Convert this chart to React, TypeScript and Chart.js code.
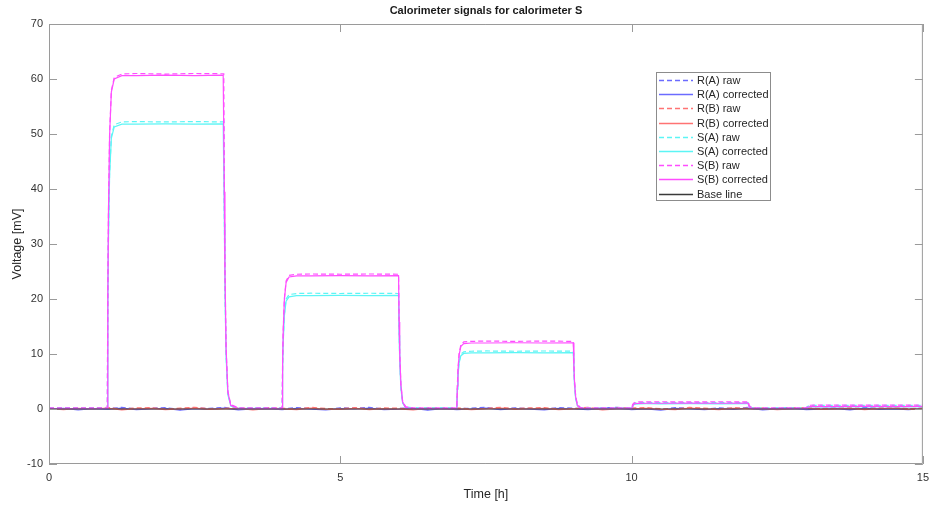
import React, { useEffect, useRef } from "react";
import { Chart, registerables } from "chart.js";

Chart.register(...registerables);

const TITLE = "Calorimeter signals for calorimeter S";
const X_LABEL = "Time [h]";
const Y_LABEL = "Voltage [mV]";
const X_TICKS = [0, 5, 10, 15];
const Y_TICKS = [-10, 0, 10, 20, 30, 40, 50, 60, 70];

const SERIES_NAMES = [
  "R(A) raw",
  "R(A) corrected",
  "R(B) raw",
  "R(B) corrected",
  "S(A) raw",
  "S(A) corrected",
  "S(B) raw",
  "S(B) corrected",
  "Base line",
];

// time grid for the S signals [h]
const S_TIME = [
  0, 0.5,
  1, 1.01, 1.02, 1.04, 1.07, 1.12, 1.25, 1.5, 2, 2.5, 2.99,
  3, 3.01, 3.02, 3.04, 3.07, 3.12, 3.25, 3.6,
  4, 4.01, 4.02, 4.04, 4.07, 4.12, 4.25, 4.5, 5, 5.5, 5.99,
  6, 6.01, 6.02, 6.04, 6.07, 6.12, 6.25, 6.6,
  7, 7.01, 7.02, 7.04, 7.07, 7.12, 7.25, 7.5, 8, 8.5, 8.99,
  9, 9.01, 9.02, 9.04, 9.07, 9.12, 9.25, 9.6,
  10, 10.01, 10.02, 10.04, 10.07, 10.12, 10.25, 10.5, 11, 11.5, 11.99,
  12, 12.01, 12.02, 12.04, 12.07, 12.12, 12.25, 12.6,
  13, 13.01, 13.02, 13.04, 13.07, 13.12, 13.25, 13.5, 14, 14.5, 15,
];

const SB_CORR = [
  0.05, 0.05,
  0.05, 21.2, 35.2, 49.7, 57.6, 60.0, 60.6, 60.6, 60.7, 60.6, 60.7,
  60.7, 39.5, 25.5, 11.0, 3.1, 0.65, 0.05, 0.05,
  0.05, 8.5, 14.1, 19.9, 23.0, 24.0, 24.2, 24.2, 24.25, 24.2, 24.25,
  24.25, 15.8, 10.2, 4.4, 1.25, 0.3, 0.05, 0.05,
  0.05, 4.2, 7.0, 9.9, 11.4, 11.9, 12.0, 12.0, 12.05, 12.0, 12.05,
  12.05, 7.85, 5.1, 2.2, 0.65, 0.15, 0.05, 0.05,
  0.05, 0.4, 0.63, 0.87, 1.0, 1.04, 1.05, 1.05, 1.08, 1.05, 1.08,
  1.08, 0.72, 0.48, 0.23, 0.1, 0.06, 0.05, 0.05,
  0.05, 0.19, 0.28, 0.38, 0.43, 0.45, 0.45, 0.45, 0.47, 0.45, 0.46,
];

const SB_RAW = [
  0.2, 0.2,
  0.2, 21.4, 35.4, 50.0, 57.9, 60.3, 60.9, 61.0, 60.9, 61.0, 60.95,
  60.95, 39.7, 25.7, 11.1, 3.2, 0.8, 0.2, 0.2,
  0.2, 8.7, 14.3, 20.1, 23.3, 24.3, 24.5, 24.55, 24.5, 24.55, 24.5,
  24.5, 16.0, 10.4, 4.6, 1.4, 0.45, 0.2, 0.2,
  0.2, 4.4, 7.2, 10.1, 11.7, 12.2, 12.3, 12.35, 12.3, 12.35, 12.3,
  12.3, 8.1, 5.3, 2.4, 0.8, 0.3, 0.2, 0.2,
  0.2, 0.6, 0.85, 1.1, 1.25, 1.29, 1.3, 1.32, 1.3, 1.32, 1.3,
  1.3, 0.9, 0.66, 0.4, 0.26, 0.21, 0.2, 0.2,
  0.2, 0.38, 0.49, 0.61, 0.68, 0.7, 0.7, 0.72, 0.7, 0.72, 0.7,
];

const SA_CORR = [
  0.05, 0.05,
  0.05, 18.2, 30.1, 42.5, 49.2, 51.3, 51.8, 51.8, 51.85, 51.8, 51.85,
  51.85, 33.7, 21.8, 9.4, 2.6, 0.55, 0.05, 0.05,
  0.05, 7.2, 12.0, 16.9, 19.6, 20.4, 20.6, 20.6, 20.65, 20.6, 20.65,
  20.65, 13.4, 8.7, 3.75, 1.07, 0.25, 0.05, 0.05,
  0.05, 3.6, 5.9, 8.4, 9.7, 10.1, 10.2, 10.2, 10.25, 10.2, 10.25,
  10.25, 6.7, 4.3, 1.9, 0.55, 0.15, 0.05, 0.05,
  0.05, 0.37, 0.57, 0.79, 0.9, 0.94, 0.95, 0.95, 0.97, 0.95, 0.97,
  0.97, 0.65, 0.44, 0.21, 0.1, 0.06, 0.05, 0.05,
  0.05, 0.17, 0.25, 0.34, 0.38, 0.4, 0.4, 0.4, 0.42, 0.4, 0.41,
];

const SA_RAW = [
  0.2, 0.2,
  0.2, 18.4, 30.4, 42.8, 49.6, 51.7, 52.2, 52.25, 52.2, 52.25, 52.2,
  52.2, 34.0, 22.0, 9.6, 2.8, 0.7, 0.2, 0.2,
  0.2, 7.5, 12.3, 17.3, 20.0, 20.8, 21.0, 21.05, 21.0, 21.05, 21.0,
  21.0, 13.7, 9.0, 3.9, 1.2, 0.4, 0.2, 0.2,
  0.2, 3.8, 6.2, 8.6, 10.0, 10.4, 10.5, 10.55, 10.5, 10.55, 10.5,
  10.5, 6.9, 4.5, 2.0, 0.7, 0.3, 0.2, 0.2,
  0.2, 0.53, 0.75, 0.98, 1.1, 1.14, 1.15, 1.17, 1.15, 1.17, 1.15,
  1.15, 0.82, 0.6, 0.37, 0.25, 0.21, 0.2, 0.2,
  0.2, 0.36, 0.46, 0.57, 0.63, 0.65, 0.65, 0.67, 0.65, 0.67, 0.65,
];

// time grid for the R signals [h]
const R_TIME = [
  0, 0.25, 0.5, 0.75, 1, 1.25, 1.5, 1.75, 2, 2.25,
  2.5, 2.75, 3, 3.25, 3.5, 3.75, 4, 4.25, 4.5, 4.75,
  5, 5.25, 5.5, 5.75, 6, 6.25, 6.5, 6.75, 7, 7.25,
  7.5, 7.75, 8, 8.25, 8.5, 8.75, 9, 9.25, 9.5, 9.75,
  10, 10.25, 10.5, 10.75, 11, 11.25, 11.5, 11.75, 12, 12.25,
  12.5, 12.75, 13, 13.25, 13.5, 13.75, 14, 14.25, 14.5, 14.75,
  15,
];

const RA_RAW = [
  0.1, 0.25, -0.05, 0.2, 0.05, 0.3, 0.0, 0.15, 0.25, -0.1,
  0.2, 0.1, 0.3, -0.05, 0.15, 0.2, 0.0, 0.25, 0.1, -0.05,
  0.2, 0.15, 0.3, 0.0, 0.1, 0.25, -0.1, 0.2, 0.05, 0.15,
  0.3, 0.0, 0.2, 0.1, -0.05, 0.25, 0.15, 0.0, 0.2, 0.3,
  0.05, 0.1, -0.1, 0.25, 0.15, 0.0, 0.2, 0.1, 0.3, -0.05,
  0.15, 0.25, 0.0, 0.1, 0.2, -0.05, 0.3, 0.1, 0.15, 0.0,
  0.2,
];

const RA_CORR = [
  0.0, 0.1, -0.15, 0.05, -0.05, 0.15, -0.1, 0.0, 0.1, -0.2,
  0.05, -0.05, 0.15, -0.15, 0.0, 0.05, -0.1, 0.1, -0.05, -0.15,
  0.05, 0.0, 0.15, -0.1, -0.05, 0.1, -0.2, 0.05, -0.1, 0.0,
  0.15, -0.1, 0.05, -0.05, -0.15, 0.1, 0.0, -0.1, 0.05, 0.15,
  -0.1, 0.0, -0.2, 0.1, 0.0, -0.1, 0.05, -0.05, 0.15, -0.15,
  0.0, 0.1, -0.1, -0.05, 0.05, -0.15, 0.15, -0.05, 0.0, -0.1,
  0.05,
];

const RB_RAW = [
  0.15, 0.0, 0.2, 0.1, 0.3, -0.05, 0.2, 0.25, 0.0, 0.15,
  0.3, 0.05, 0.1, 0.25, -0.05, 0.2, 0.15, 0.0, 0.3, 0.1,
  0.05, 0.25, 0.0, 0.2, 0.15, -0.05, 0.25, 0.1, 0.2, 0.0,
  0.1, 0.3, 0.05, 0.2, 0.25, 0.0, 0.1, 0.3, -0.05, 0.15,
  0.2, 0.25, 0.05, 0.0, 0.3, 0.15, 0.0, 0.25, 0.1, 0.2,
  0.0, 0.15, 0.3, 0.05, 0.1, 0.25, 0.0, 0.2, 0.3, 0.05,
  0.15,
];

const RB_CORR = [
  0.05, -0.1, 0.1, 0.0, 0.15, -0.15, 0.05, 0.1, -0.1, 0.0,
  0.15, -0.05, 0.0, 0.1, -0.15, 0.05, 0.0, -0.1, 0.15, -0.05,
  -0.05, 0.1, -0.1, 0.05, 0.0, -0.15, 0.1, 0.0, 0.05, -0.1,
  0.0, 0.15, -0.05, 0.05, 0.1, -0.1, 0.0, 0.15, -0.15, 0.0,
  0.05, 0.1, -0.05, -0.1, 0.15, 0.0, -0.1, 0.1, 0.0, 0.05,
  -0.1, 0.0, 0.15, -0.05, 0.0, 0.1, -0.1, 0.05, 0.15, -0.05,
  0.0,
];

const BASE_TIME = [0, 15];
const BASE_VALUES = [0, 0];

const COLORS = [
  "#6b6bff",
  "#6b6bff",
  "#ff7373",
  "#ff7373",
  "#5cf5f5",
  "#5cf5f5",
  "#ff4dff",
  "#ff4dff",
  "#3a3a3a",
];
const DASHED = [true, false, true, false, true, false, true, false, false];

const toPoints = (xs: number[], ys: number[]) =>
  xs.map((x, i) => ({ x, y: ys[i] }));

const SERIES_DATA = [
  toPoints(R_TIME, RA_RAW),
  toPoints(R_TIME, RA_CORR),
  toPoints(R_TIME, RB_RAW),
  toPoints(R_TIME, RB_CORR),
  toPoints(S_TIME, SA_RAW),
  toPoints(S_TIME, SA_CORR),
  toPoints(S_TIME, SB_RAW),
  toPoints(S_TIME, SB_CORR),
  toPoints(BASE_TIME, BASE_VALUES),
];

const FONT = "'Liberation Sans', Arial, Helvetica, sans-serif";
const TEXT_COLOR = "#333333";
const AXIS_COLOR = "#9a9a9a";

const boxPlugin = {
  id: "matlabBox",
  afterDraw(chart: any) {
    const { ctx, chartArea } = chart;
    const { left, right, top, bottom } = chartArea;
    const xs = chart.scales.x;
    const ys = chart.scales.y;
    ctx.save();
    ctx.strokeStyle = AXIS_COLOR;
    ctx.lineWidth = 1;
    ctx.beginPath();
    ctx.rect(left + 0.5, top + 0.5, right - left - 1, bottom - top - 1);
    ctx.stroke();
    const tl = 8;
    ctx.beginPath();
    X_TICKS.forEach((v) => {
      const px = Math.round(xs.getPixelForValue(v)) + 0.5;
      ctx.moveTo(px, bottom);
      ctx.lineTo(px, bottom - tl);
      ctx.moveTo(px, top);
      ctx.lineTo(px, top + tl);
    });
    Y_TICKS.forEach((v) => {
      const py = Math.round(ys.getPixelForValue(v)) + 0.5;
      ctx.moveTo(left, py);
      ctx.lineTo(left + tl, py);
      ctx.moveTo(right, py);
      ctx.lineTo(right - tl, py);
    });
    ctx.stroke();

    // title
    ctx.fillStyle = "#1a1a1a";
    ctx.font = `bold 11px ${FONT}`;
    ctx.textAlign = "center";
    ctx.textBaseline = "middle";
    ctx.fillText(TITLE, (left + right) / 2, 11);

    // legend
    const lx = 656;
    const ly = 72;
    const lw = 114;
    const lh = 128;
    ctx.fillStyle = "#ffffff";
    ctx.fillRect(lx, ly, lw, lh);
    ctx.strokeStyle = "#8c8c8c";
    ctx.lineWidth = 1;
    ctx.strokeRect(lx + 0.5, ly + 0.5, lw, lh);
    ctx.font = `11px ${FONT}`;
    ctx.textAlign = "left";
    ctx.textBaseline = "middle";
    SERIES_NAMES.forEach((name, i) => {
      const cy = Math.round(ly + 8 + i * 14.2) + 0.5;
      ctx.strokeStyle = COLORS[i];
      ctx.lineWidth = 1.3;
      ctx.setLineDash(DASHED[i] ? [5, 3] : []);
      ctx.beginPath();
      ctx.moveTo(lx + 3, cy);
      ctx.lineTo(lx + 37, cy);
      ctx.stroke();
      ctx.setLineDash([]);
      ctx.fillStyle = "#262626";
      ctx.fillText(name, lx + 41, cy);
    });
    ctx.restore();
  },
};

export default function App() {
  const ref = useRef<HTMLCanvasElement | null>(null);

  useEffect(() => {
    document.body.style.margin = "0";
    const canvas = ref.current;
    if (!canvas) return;
    const chart = new Chart(canvas, {
      type: "line",
      data: {
        datasets: SERIES_NAMES.map((name, i) => ({
          label: name,
          data: SERIES_DATA[i],
          borderColor: COLORS[i],
          backgroundColor: COLORS[i],
          borderWidth: 1.2,
          borderDash: DASHED[i] ? [5, 3] : [],
          pointRadius: 0,
          fill: false,
          tension: 0,
          order: SERIES_NAMES.length - i,
        })),
      },
      options: {
        responsive: false,
        animation: false,
        layout: { padding: { top: 24, right: 9, left: 0, bottom: 0 } },
        plugins: {
          legend: { display: false },
          title: { display: false },
          tooltip: { enabled: false },
        },
        scales: {
          x: {
            type: "linear",
            min: 0,
            max: 15,
            afterFit: (s: any) => {
              s.height = 46;
            },
            afterBuildTicks: (s: any) => {
              s.ticks = X_TICKS.map((v) => ({ value: v }));
            },
            ticks: {
              color: TEXT_COLOR,
              font: { family: FONT, size: 11 },
              padding: 7,
              maxRotation: 0,
            },
            grid: { drawOnChartArea: false, drawTicks: false },
            border: { display: false },
            title: {
              display: true,
              text: X_LABEL,
              color: "#262626",
              font: { family: FONT, size: 12.5 },
              padding: { top: 4, bottom: 8 },
            },
          },
          y: {
            type: "linear",
            min: -10,
            max: 70,
            afterFit: (s: any) => {
              s.width = 49;
            },
            afterBuildTicks: (s: any) => {
              s.ticks = Y_TICKS.map((v) => ({ value: v }));
            },
            ticks: {
              color: TEXT_COLOR,
              font: { family: FONT, size: 11 },
              padding: 6,
            },
            grid: { drawOnChartArea: false, drawTicks: false },
            border: { display: false },
            title: {
              display: true,
              text: Y_LABEL,
              color: "#262626",
              font: { family: FONT, size: 12.5 },
              padding: { top: 10, bottom: 4 },
            },
          },
        },
      },
      plugins: [boxPlugin],
    });
    return () => chart.destroy();
  }, []);

  return (
    <div style={{ width: 936, height: 510, background: "#ffffff" }}>
      <canvas
        ref={ref}
        width={936}
        height={510}
        style={{ display: "block", width: 936, height: 510 }}
      />
    </div>
  );
}
